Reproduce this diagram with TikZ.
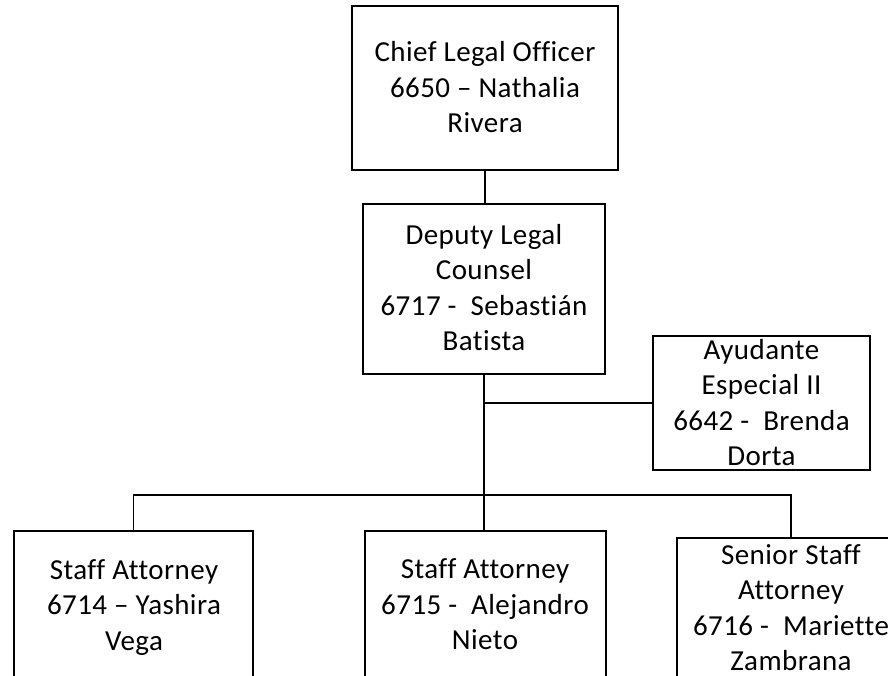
\documentclass[tikz,border=0pt]{standalone}
\usepackage{fontspec}
\setmainfont[Ligatures=NoCommon,LetterSpace=1.5]{Carlito}
\begin{document}
\begin{tikzpicture}[x=1pt,y=-1pt,
  box/.style={draw, line width=1.5pt, inner sep=0pt},
  txt/.style={align=center, font=\fontsize{29}{35.5}\selectfont, inner sep=0pt},
  link/.style={line width=1.5pt}]
\useasboundingbox (0,0) rectangle (888,676);
% boxes
\node[box, minimum width=266pt, minimum height=164pt] (clo) at (485,88) {};
\node[box, minimum width=242pt, minimum height=170pt] (dlc) at (484,289) {};
\node[box, minimum width=217pt, minimum height=134pt] (aye) at (761.5,403) {};
\node[box, minimum width=239pt, minimum height=149pt] (sa1) at (133.5,605.5) {};
\node[box, minimum width=241pt, minimum height=149pt] (sa2) at (485.5,605.5) {};
\node[box, minimum width=228pt, minimum height=142pt] (ssa) at (791,609) {};
% texts
\node[txt] (clot) at (485,87.5) {Chief Legal Officer\\6650 – Nathalia\\Rivera};
\node[txt] (dlct) at (484,287.5) {Deputy Legal\\Counsel\\6717 -\ \ Sebastián\\Batista};
\node[txt] (ayet) at (761.5,402.5) {Ayudante\\Especial II\\6642 -\ \ Brenda\\Dorta};
\node[txt] (sa1t) at (134,607.5) {Staff Attorney\\6714 – Yashira\\Vega};
\node[txt] (sa2t) at (485,604.5) {Staff Attorney\\6715 -\ \ Alejandro\\Nieto};
\node[txt] (ssat) at (791,607.5) {Senior Staff\\Attorney\\6716 -\ \ Mariette\\Zambrana};
% connectors
\coordinate (bus) at (484,495);
\draw[link] (clo.south) -- (clo.south |- dlc.north);
\draw[link] (dlc.south) -- (dlc.south |- sa2.north);
\draw[link] (dlc.south |- aye.west) -- (aye.west);
\draw[link] (sa1.north) |- (bus) -| (ssa.north);
\end{tikzpicture}
\end{document}
